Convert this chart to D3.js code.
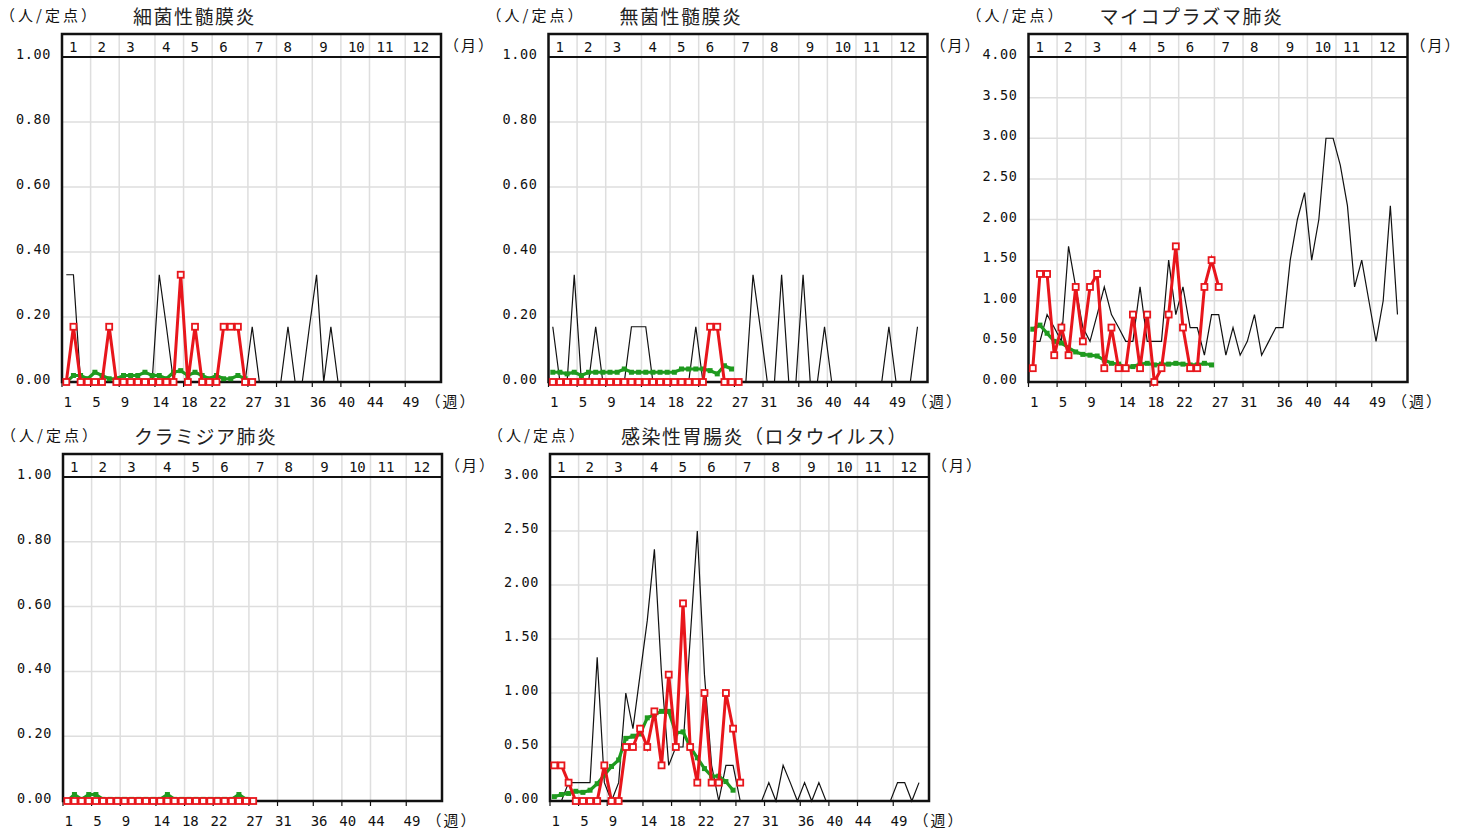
<!DOCTYPE html>
<html><head><meta charset="utf-8">
<script src="https://cdn.jsdelivr.net/npm/d3@7"></script>
<style>body{margin:0;background:#fff}svg{display:block}</style>
</head><body><svg id="c" width="1469" height="832"></svg>
<script>
// ---- categories / labels ----
const monthLabels = ["1","2","3","4","5","6","7","8","9","10","11","12"];
const monthStartWeeks = [1,5,9,14,18,22,27,31,36,40,44,49];
const weekTickLabels = [1,5,9,14,18,22,27,31,36,40,44,49];
const titles = ["細菌性髄膜炎","無菌性髄膜炎","マイコプラズマ肺炎","クラミジア肺炎","感染性胃腸炎（ロタウイルス）"];
const yMaxes = [1,1,4,1,3];
const ySteps = [0.2,0.2,0.5,0.2,0.5];

// ---- series (per week, starting week 1) ----
// black: previous year, red: current year, green: past average
const prev1 = [0.33,0.33,0,0,0,0,0,0,0,0, 0,0,0,0.33,0.17,0,0,0,0,0, 0,0,0,0,0,0,0.17,0,0,0, 0,0.17,0,0,0.17,0.33,0,0.17,0,0, 0,0,0,0,0,0,0,0,0,0, 0,0];
const cur1  = [0,0.17,0,0,0,0,0.17,0,0,0, 0,0,0,0,0,0,0.33,0,0.17,0, 0,0,0.17,0.17,0.17,0,0];
const avg1  = [0,0.02,0.02,0.01,0.03,0.02,0.01,0.01,0.02,0.02, 0.02,0.03,0.02,0.02,0.01,0.03,0.035,0.02,0.03,0.02, 0.01,0.02,0.01,0.01,0.02,0.01];

const prev2 = [0.17,0,0,0.33,0,0,0.17,0,0,0, 0,0.17,0.17,0.17,0,0,0,0,0,0, 0.17,0,0,0,0,0,0,0,0.33,0.17, 0,0,0.33,0,0,0.33,0,0,0.17,0, 0,0,0,0,0,0,0,0.17,0,0, 0,0.17];
const cur2  = [0,0,0,0,0,0,0,0,0,0, 0,0,0,0,0,0,0,0,0,0, 0,0,0.17,0.17,0,0,0];
const avg2  = [0.03,0.03,0.025,0.03,0.02,0.03,0.03,0.03,0.03,0.03, 0.04,0.03,0.03,0.03,0.03,0.03,0.03,0.03,0.04,0.04, 0.04,0.04,0.035,0.025,0.05,0.04];

const prev3 = [0.5,0.5,0.83,0.67,0.5,1.67,1.17,0.67,0.5,0.83, 1.17,0.83,0.67,0.5,0.5,1.17,0.5,0.5,0.5,1.5, 0.83,1.17,0.67,0.67,0.33,0.83,0.83,0.33,0.67,0.33, 0.5,0.83,0.33,0.5,0.67,0.67,1.5,2.0,2.33,1.5, 2.0,3.0,3.0,2.67,2.17,1.17,1.5,1.0,0.5,1.0, 2.17,0.83];
const cur3  = [0.17,1.33,1.33,0.33,0.67,0.33,1.17,0.5,1.17,1.33, 0.17,0.67,0.17,0.17,0.83,0.17,0.83,0,0.17,0.83, 1.67,0.67,0.17,0.17,1.17,1.5,1.17];
const avg3  = [0.65,0.7,0.6,0.5,0.48,0.42,0.37,0.34,0.33,0.32, 0.27,0.23,0.22,0.18,0.19,0.22,0.23,0.21,0.22,0.22, 0.23,0.22,0.21,0.21,0.23,0.21];

const prev4 = [0,0,0,0,0,0,0,0,0,0, 0,0,0,0,0,0,0,0,0,0, 0,0,0,0,0,0,0,0,0,0, 0,0,0,0,0,0,0,0,0,0, 0,0,0,0,0,0,0,0,0,0, 0,0];
const cur4  = [0,0,0,0,0,0,0,0,0,0, 0,0,0,0,0,0,0,0,0,0, 0,0,0,0,0,0,0];
const avg4  = [0,0.02,0.005,0.02,0.02,0.005,0.005,0.005,0.005,0.005, 0.005,0.005,0.005,0.005,0.02,0.005,0.005,0.005,0.005,0.005, 0.005,0.005,0.005,0.005,0.02,0.005];

const prev5 = [0,0,0.17,0.17,0.17,0.17,1.33,0.17,0,0.17, 1.0,0.67,1.17,1.67,2.33,1.17,0.33,0.5,0.5,1.5, 2.5,1.17,0.33,0,0.33,0.33,0,0,0,0, 0.17,0,0.33,0.17,0,0.17,0,0.17,0,0, 0,0,0,0,0,0,0,0,0.17,0.17, 0,0.17];
const cur5  = [0.33,0.33,0.17,0,0,0,0,0.33,0,0, 0.5,0.5,0.67,0.5,0.83,0.33,1.17,0.5,1.83,0.5, 0.17,1.0,0.17,0.17,1.0,0.67,0.17];
const avg5  = [0.04,0.06,0.07,0.09,0.08,0.1,0.16,0.24,0.32,0.38, 0.58,0.6,0.62,0.77,0.8,0.83,0.83,0.63,0.64,0.5, 0.4,0.3,0.23,0.23,0.18,0.1];

const prevSeries = [prev1,prev2,prev3,prev4,prev5];
const curSeries  = [cur1,cur2,cur3,cur4,cur5];
const avgSeries  = [avg1,avg2,avg3,avg4,avg5];

// ---- layout ----
const layout = [
  {left:62,   top:34,  hb:57,  bottom:382},
  {left:548.5,top:34,  hb:57,  bottom:382},
  {left:1028.5,top:34, hb:57,  bottom:382},
  {left:63,   top:454, hb:477, bottom:801},
  {left:550,  top:454, hb:477, bottom:801}
];
const W = 379;
const RED = "#e8161c", GREEN = "#1f9a1f";
const jp = "'Noto Sans CJK JP','Noto Sans',sans-serif";
const mono = "'DejaVu Sans Mono',monospace";

const svg = d3.select("#c");

layout.forEach((L, k) => {
  const g = svg.append("g");
  const right = L.left + W;
  const x = d3.scaleLinear().domain([0.4, 53.4]).range([L.left, right]);
  const y = d3.scaleLinear().domain([0, yMaxes[k]]).range([L.bottom, L.hb]);
  const yTicks = d3.range(0, yMaxes[k] + 1e-9, ySteps[k]);

  // horizontal grid
  g.selectAll(".hg").data(yTicks.slice(1, -1)).join("line")
    .attr("x1", L.left).attr("x2", right)
    .attr("y1", d => y(d)).attr("y2", d => y(d))
    .attr("stroke", "#dedede").attr("stroke-width", 1.5);
  // vertical grid (month starts)
  g.selectAll(".vg").data(monthStartWeeks.slice(1)).join("line")
    .attr("x1", d => x(d - 0.6)).attr("x2", d => x(d - 0.6))
    .attr("y1", L.top).attr("y2", L.bottom)
    .attr("stroke", "#dedede").attr("stroke-width", 1.5);

  // month header
  g.append("line").attr("x1", L.left).attr("x2", right).attr("y1", L.hb).attr("y2", L.hb)
    .attr("stroke", "#111").attr("stroke-width", 2);
  g.selectAll(".ml").data(monthLabels).join("text")
    .attr("x", (d, i) => x(monthStartWeeks[i] - 0.6) + 7)
    .attr("y", L.top + 17.5)
    .attr("font-family", mono).attr("font-size", 14).attr("fill", "#111")
    .text(d => d);

  // outer box
  g.append("rect").attr("x", L.left).attr("y", L.top).attr("width", W).attr("height", L.bottom - L.top)
    .attr("fill", "none").attr("stroke", "#111").attr("stroke-width", 2.5);

  // bottom ticks
  g.selectAll(".bt").data(monthStartWeeks).join("line")
    .attr("x1", d => x(d - 0.6)).attr("x2", d => x(d - 0.6))
    .attr("y1", L.bottom).attr("y2", L.bottom + 5)
    .attr("stroke", "#111").attr("stroke-width", 1.2);

  // y labels
  g.selectAll(".yl").data(yTicks).join("text")
    .attr("x", L.left - 11).attr("y", d => y(d) + 2)
    .attr("text-anchor", "end")
    .attr("font-family", mono).attr("font-size", 13.5).attr("letter-spacing", 0.6).attr("fill", "#111")
    .text(d => d.toFixed(2));

  // x labels
  g.selectAll(".xl").data(weekTickLabels).join("text")
    .attr("x", d => x(d) + 1.5).attr("y", L.bottom + 25)
    .attr("text-anchor", "middle")
    .attr("font-family", mono).attr("font-size", 14).attr("fill", "#111")
    .text(d => d);

  // unit labels
  g.append("text").attr("x", right - 15.5).attr("y", L.bottom + 25)
    .attr("font-family", jp).attr("font-size", 15).attr("letter-spacing", 2).attr("fill", "#111").text("（週）");
  g.append("text").attr("x", right + 3).attr("y", L.top + 17)
    .attr("font-family", jp).attr("font-size", 15).attr("letter-spacing", 2).attr("fill", "#111").text("（月）");
  g.append("text").attr("x", L.left - 62).attr("y", L.top - 13)
    .attr("font-family", jp).attr("font-size", 15).attr("letter-spacing", 3).attr("fill", "#111").text("（人/定点）");
  g.append("text").attr("x", L.left + 71).attr("y", L.top - 10)
    .attr("font-family", jp).attr("font-size", 19).attr("letter-spacing", 1.5).attr("fill", "#222").text(titles[k]);

  const line = d3.line().x((d, i) => x(i + 1)).y(d => y(d));

  // previous year (black)
  g.append("path").datum(prevSeries[k]).attr("d", line)
    .attr("fill", "none").attr("stroke", "#111").attr("stroke-width", 1.2);

  // average (green)
  g.append("path").datum(avgSeries[k]).attr("d", line)
    .attr("fill", "none").attr("stroke", GREEN).attr("stroke-width", 3.2);
  g.selectAll(".gm").data(avgSeries[k]).join("rect")
    .attr("x", (d, i) => x(i + 1) - 2.5).attr("y", d => y(d) - 2.5)
    .attr("width", 5).attr("height", 5).attr("fill", GREEN);

  // current year (red)
  g.append("path").datum(curSeries[k]).attr("d", line)
    .attr("fill", "none").attr("stroke", RED).attr("stroke-width", 3);
  g.selectAll(".rm").data(curSeries[k]).join("rect")
    .attr("x", (d, i) => x(i + 1) - 3).attr("y", d => y(d) - 3)
    .attr("width", 6).attr("height", 6).attr("fill", "#fff")
    .attr("stroke", RED).attr("stroke-width", 1.8);
});
</script>
</body></html>
